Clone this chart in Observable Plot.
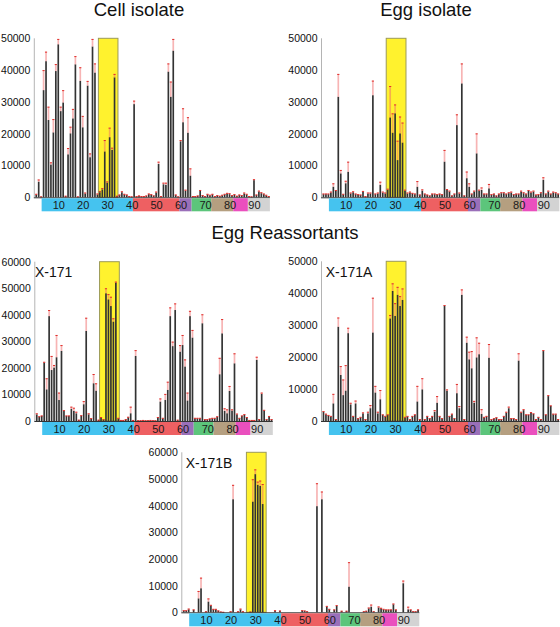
<!DOCTYPE html>
<html><head><meta charset="utf-8">
<script src="https://cdn.jsdelivr.net/npm/d3@7"></script>
<script src="https://cdn.jsdelivr.net/npm/@observablehq/plot@0.6"></script>
<style>
body{margin:0;background:#fff;}
#fig{position:relative;width:560px;height:627px;font-family:"Liberation Sans",Arial,sans-serif;overflow:hidden;background:#fff;}
.t{position:absolute;font-size:18.5px;line-height:18.5px;text-align:center;color:#111;white-space:nowrap;}
.lab{position:absolute;font-size:14px;line-height:14px;color:#111;white-space:nowrap;}
.panel{position:absolute;}
</style></head><body><div id="fig"></div>
<script>
// peptide positions
const positions = d3.range(1, 97);
const bandTickLabels = [10, 20, 30, 40, 50, 60, 70, 80, 90];
const regionStarts = [3.2, 40.5, 59.5, 64.5, 72.5, 81.5, 87.5];
const regionEnds   = [40.5, 59.5, 64.5, 72.5, 81.5, 87.5, 96.5];
const regionColors = ["#45c3ef", "#ee6062", "#9a6fb9", "#5cc57b", "#b59f80", "#ea4fbe", "#d3d3d3"];
const highlightRange = [26.4, 34.4];

const cellValues = [
 800,4900,200,33700,42800,24300,10300,20400,39700,48100,
 27100,29800,400,13500,20100,24800,41800,200,36600,22000,
 1200,35100,12600,47400,39200,900,1600,2500,14400,4600,
 18900,14900,37700,400,700,1600,900,700,300,200,
 29300,300,400,300,300,400,1000,800,500,1500,
 10500,300,4100,3900,39500,31600,46100,700,200,17600,
 23600,2100,20300,6800,300,300,400,2000,500,300,
 900,600,900,300,500,400,600,900,1100,1000,
 500,800,400,700,500,1200,900,300,200,5400,
 700,1800,1300,1000,600,300];
const cellErrors = [
 300,700,100,6300,3000,4200,700,4200,2200,1700,
 1400,3900,100,2000,2100,3000,2600,100,4300,3600,
 300,1500,1200,2400,2900,300,400,400,3600,400,
 3000,700,1100,100,200,300,200,200,100,100,
 1100,100,200,100,100,200,200,200,100,300,
 700,100,500,700,2600,4800,3700,200,100,400,
 4400,300,4900,2300,100,100,200,300,200,100,
 200,200,200,100,200,100,200,200,300,300,
 200,200,100,200,200,300,200,100,100,300,
 200,300,300,200,200,100];

const eggValues = [
 1000,1000,1000,1500,3300,2000,31600,7500,900,4400,
 8000,1200,1600,1000,800,700,1700,300,1200,1200,
 32100,1000,1200,3900,1500,1200,2300,25100,20300,26400,
 11700,20100,17200,2100,1200,1500,1200,1000,3300,700,
 2100,1000,700,500,1000,1000,800,1000,800,11200,
 2300,1800,500,1000,22700,1200,35800,500,6000,3300,
 1000,1800,13800,2100,2300,1000,1000,2800,800,1000,
 500,1000,1300,1300,1000,1300,1500,800,1000,1000,
 1800,1300,1000,2000,1500,1800,700,800,1300,5500,
 1000,1800,1000,1500,1300,1000];
const eggErrors = [
 200,200,200,300,1100,300,7200,1100,200,800,
 3200,300,300,200,200,200,300,100,300,300,
 4600,200,300,1000,300,300,400,9900,6100,2800,
 6100,5300,6300,300,300,300,200,200,1800,200,
 400,200,200,100,200,200,200,200,200,3700,
 300,300,100,200,3400,300,6300,100,2100,1100,
 200,300,6300,300,800,200,200,1400,200,200,
 100,200,300,300,200,300,300,200,200,200,
 300,300,200,300,300,300,200,200,300,800,
 200,300,200,300,300,200];

const x171Values = [
 2500,1600,1900,22000,11900,39500,19200,20100,24000,7900,
 26400,3800,1900,1900,4600,3800,2900,400,2000,6300,
 33900,2500,900,14200,11400,400,1300,600,48100,45800,
 43300,37400,52100,1000,300,300,600,1400,2900,300,
 24500,200,200,300,200,200,300,200,200,1300,
 7300,1000,7900,11700,39500,28200,41800,400,26100,28600,
 20500,7700,39500,31400,1000,1000,1000,36800,600,600,
 800,1000,1000,1500,17600,33000,3800,2900,11300,3900,
 21700,2500,1000,1900,2300,1300,300,300,300,23000,
 600,10200,3900,600,1600,600];
const x171Errors = [
 400,200,200,300,4200,2300,5300,1000,8400,2800,
 2200,300,200,200,800,1200,600,100,200,1200,
 5000,400,200,3500,2800,100,200,100,1900,2000,
 3500,1300,400,200,100,100,100,200,2500,100,
 2200,100,100,100,100,100,100,100,100,200,
 1200,200,2300,3100,3300,1700,2500,100,2500,3800,
 2700,3000,2000,2900,200,200,200,3400,100,100,
 200,200,200,300,6200,5400,1000,1500,1900,500,
 3800,300,200,200,300,200,100,100,100,1200,
 100,500,300,100,300,100];

const x171aValues = [
 2900,2100,1700,1400,5500,500,29500,14400,8100,9500,
 27500,5200,1400,5500,800,1100,2400,500,2400,4000,
 27700,8900,2400,6800,1900,1400,1900,32100,40700,32900,
 39500,36000,37900,1100,1400,500,1400,1900,6100,500,
 9900,500,1400,800,1400,2900,5700,1400,800,36000,
 9500,1400,2100,800,8700,4000,39500,500,24500,19300,
 16500,5700,19900,20900,2200,1100,1400,19800,500,800,
 1000,500,500,1400,2600,4000,800,800,500,18900,
 2600,3400,1900,1900,2600,2200,500,1100,500,21900,
 1900,7800,4700,2100,2100,500];
const x171aErrors = [
 200,200,200,200,3000,100,2900,2800,4900,8000,
 1700,500,200,900,100,200,300,100,500,1000,
 10900,2100,500,2900,200,200,200,1100,2400,4000,
 2500,3100,3600,200,200,100,200,200,4900,100,
 3500,100,200,100,200,500,2100,200,100,300,
 400,200,200,100,2900,700,1700,100,1900,2400,
 5400,600,6300,3600,1500,200,200,4300,100,100,
 200,100,100,200,300,500,100,100,100,2300,
 300,300,200,200,200,200,100,200,100,300,
 200,300,200,200,200,100];

const x171bValues = [
 600,600,1100,0,900,0,5200,9000,0,300,
 4000,2500,1100,1100,600,200,100,0,0,300,
 42400,0,300,1100,300,0,0,200,41500,51800,
 47800,47400,40600,0,0,0,0,600,0,500,
 0,0,0,0,0,0,0,0,600,500,
 300,0,0,0,39800,0,42400,0,2100,1100,
 0,900,2400,0,500,0,500,9600,0,0,
 0,0,0,300,500,1500,2100,300,0,1800,
 1500,1100,900,900,900,3000,900,0,0,10900,
 0,1100,900,300,300,900];
const x171bErrors = [
 200,200,300,0,200,0,2800,4000,0,100,
 1200,300,200,200,100,100,100,0,0,100,
 5400,0,100,300,100,0,0,100,8400,1800,
 1200,2000,7500,0,0,0,0,200,0,200,
 0,0,0,0,0,0,0,0,200,200,
 100,0,0,0,8600,0,2900,0,300,200,
 0,200,300,0,100,0,100,9200,0,0,
 0,0,0,100,100,300,800,100,0,400,
 200,200,200,200,200,300,200,0,0,1000,
 0,1000,200,100,100,200];

const fontFamily = '"Liberation Sans", Arial, sans-serif';
const fig = document.getElementById("fig");

function addText(cls, text, css) {
  const d = document.createElement("div");
  d.className = cls;
  d.textContent = text;
  Object.assign(d.style, css);
  fig.appendChild(d);
}

function panel(cfg) {
  const data = positions.map((p, i) => ({p, v: cfg.values[i], e: cfg.errors[i]}));
  const errs = data.filter(d => d.e > 0);
  const regions = regionStarts.map((s, i) => ({s, e: regionEnds[i], c: regionColors[i]}));
  const yTicks = d3.range(0, cfg.yMax + 1, 10000);
  const hw = 0.34;
  const svg = Plot.plot({
    width: cfg.width, height: cfg.height,
    marginLeft: cfg.mL, marginRight: cfg.mR, marginTop: cfg.mT, marginBottom: cfg.mB,
    x: {domain: [0, 96.5], axis: null},
    y: {domain: [0, cfg.yMax], label: null},
    style: {fontFamily, fontSize: "10.5px", background: "transparent", color: "#111"},
    marks: [
      Plot.rect([highlightRange], {x1: d => d[0], x2: d => d[1], y1: d => 0, y2: d => cfg.yMax,
        fill: "#fff22e", stroke: "#9c9a58", strokeWidth: 1}),
      Plot.ruleX([0], {stroke: "#b4b4b4", strokeWidth: 1}),
      Plot.rect(data, {x1: d => d.p - hw, x2: d => d.p + hw, y1: d => 0, y2: "v", fill: "#333"}),
      Plot.rect(errs, {x1: d => d.p - hw, x2: d => d.p + hw, y1: "v", y2: d => d.v + d.e,
        fill: "#f06a6a", fillOpacity: 0.5}),
      Plot.ruleY(errs, {x1: d => d.p - hw - 0.1, x2: d => d.p + hw + 0.1, y: d => d.v + d.e,
        stroke: "#e0302c", strokeWidth: 1}),
      Plot.ruleY([0], {x1: d => 0, x2: d => 96.5, stroke: "#333", strokeWidth: 1}),
      Plot.rect(regions, {x1: "s", x2: "e", y1: d => 0, y2: d => 0, fill: "c",
        insetTop: 1, insetBottom: -14}),
      Plot.text(bandTickLabels, {x: d => d, y: d => 0, dy: 8, text: d => String(d),
        fontSize: 11, fill: "#1a1a1a"}),
      Plot.axisY(yTicks, {tickSize: 0, tickPadding: 4, fontSize: 10.5, label: null,
        tickFormat: d => String(d)})
    ]
  });
  svg.classList.add("panel");
  svg.style.left = cfg.left + "px";
  svg.style.top = cfg.top + "px";
  fig.appendChild(svg);
}

panel({values: cellValues, errors: cellErrors, yMax: 50000, left: 0, top: 30, width: 275, height: 185,
  mL: 33.8, mR: 5.1, mT: 8.3, mB: 17.7});
panel({values: eggValues, errors: eggErrors, yMax: 50000, left: 280, top: 30, width: 280, height: 185,
  mL: 41, mR: 0.6, mT: 8.3, mB: 17.7});
panel({values: x171Values, errors: x171Errors, yMax: 60000, left: 0, top: 250, width: 275, height: 190,
  mL: 34.3, mR: 2.2, mT: 11.7, mB: 19});
panel({values: x171aValues, errors: x171aErrors, yMax: 50000, left: 280, top: 250, width: 280, height: 190,
  mL: 41, mR: 0.6, mT: 11.3, mB: 19});
panel({values: x171bValues, errors: x171bErrors, yMax: 60000, left: 140, top: 440, width: 285, height: 187,
  mL: 41.3, mR: 5.7, mT: 12.3, mB: 14.7});

addText("t", "Cell isolate", {left: "39px", width: "200px", top: "1px"});
addText("t", "Egg isolate", {left: "326px", width: "200px", top: "1px"});
addText("t", "Egg Reassortants", {left: "185px", width: "200px", top: "223.6px"});
addText("lab", "X-171", {left: "35px", top: "264.8px"});
addText("lab", "X-171A", {left: "325.7px", top: "264.8px"});
addText("lab", "X-171B", {left: "185.7px", top: "456.4px"});
</script></body></html>
